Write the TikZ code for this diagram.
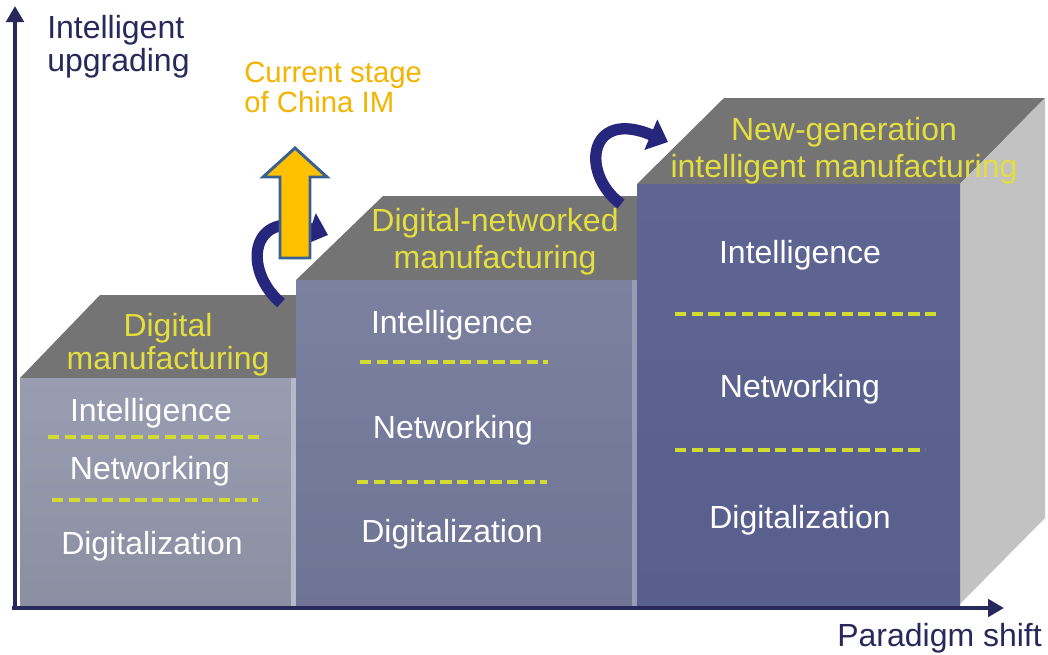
\documentclass[tikz,border=0pt]{standalone}
\usepackage{fontspec}
\setmainfont{Liberation Sans}
\usetikzlibrary{arrows.meta}
\definecolor{navy}{HTML}{28285A}
\definecolor{labelyellow}{HTML}{E4DE3E}
\definecolor{dashyellow}{HTML}{D2DC30}
\definecolor{topgray}{HTML}{747474}
\definecolor{sidegray}{HTML}{C2C2C2}
\definecolor{arrowblue}{HTML}{26267C}
\definecolor{orangefill}{HTML}{FFC000}
\definecolor{orangeedge}{HTML}{3A6090}
\definecolor{stagecol}{HTML}{F2B400}
\definecolor{bAtop}{RGB}{154,157,177}
\definecolor{bAbot}{RGB}{140,143,162}
\definecolor{bAedge}{RGB}{182,185,199}
\definecolor{bBtop}{RGB}{124,129,160}
\definecolor{bBbot}{RGB}{111,116,150}
\definecolor{bBedge}{RGB}{150,155,182}
\definecolor{bCtop}{RGB}{94,101,147}
\definecolor{bCbot}{RGB}{88,95,140}
\begin{document}
\begin{tikzpicture}[x=0.75pt,y=-0.75pt,
  facetext/.style={text=white, font=\fontsize{24}{28}\selectfont, inner sep=0pt, anchor=base},
  toplabel/.style={text=labelyellow, align=center, inner sep=0pt, anchor=north},
  sepline/.style={draw=dashyellow, line width=2.4pt, dash pattern=on 8.5pt off 4pt},
  axisline/.style={draw=navy, line width=3pt, -{Triangle[length=12pt,width=13pt]}},
  curvarrow/.style={draw=arrowblue, line width=8.5pt, -{Triangle[length=14pt,width=24pt]}},
  axislabel/.style={text=navy, font=\fontsize{24}{24.75}\selectfont, inner sep=0pt, align=left}
]
\useasboundingbox (0,0) rectangle (1048,654);

% ---- block 1 ----
\fill[topgray] (20,378) -- (100,295) -- (320,295) -- (320,378) -- cycle;
\shade[top color=bAtop, bottom color=bAbot] (20,378) rectangle (296,606);
\fill[bAedge] (291,378) rectangle (296,606);

% ---- block 2 ----
\fill[topgray] (296,280) -- (383,196) -- (660,196) -- (660,280) -- cycle;
\shade[top color=bBtop, bottom color=bBbot] (296,280) rectangle (637,606);
\fill[bBedge] (632,280) rectangle (637,606);

% ---- block 3 ----
\fill[topgray] (637,184) -- (724,98) -- (1045,98) -- (960,184) -- cycle;
\fill[sidegray] (960,184) -- (1045,98) -- (1045,518) -- (960,604) -- cycle;
\shade[top color=bCtop, bottom color=bCbot] (637,184) rectangle (960,606);

% ---- axes ----
\coordinate (origin) at (15,608);
\coordinate (ytip) at (15,6);
\coordinate (xorigin) at (12,608);
\coordinate (xtip) at (1004,608);
\draw[axisline] (origin) -- (ytip);
\draw[axisline] (xorigin) -- (xtip);

% ---- curved arrows ----
\coordinate (c1s) at (281,303);
\coordinate (c1e) at (328,235);
\draw[curvarrow] (c1s) .. controls (242,270) and (250,208) .. (c1e);
\coordinate (c2s) at (621,204);
\coordinate (c2e) at (668,142);
\draw[curvarrow] (c2s) .. controls (580,174) and (588,108) .. (c2e);

% ---- orange arrow ----
\filldraw[fill=orangefill, draw=orangeedge, line width=2.2pt, line join=miter]
  (280,258) -- (310,258) -- (310,177) -- (327,177) -- (295,148) -- (263,177) -- (280,177) -- cycle;

% ---- separators ----
\draw[sepline] (48,437) -- (262,437);
\draw[sepline] (52,500) -- (258,500);
\draw[sepline] (360,362) -- (548,362);
\draw[sepline] (357,482) -- (547,482);
\draw[sepline] (675,314) -- (937,314);
\draw[sepline] (675,450) -- (925,450);

% ---- face texts ----
\node[facetext] (b1i) at (151,421) {Intelligence};
\node[facetext] (b1n) at (150,479) {Networking};
\node[facetext] (b1d) at (152,554) {Digitalization};
\node[facetext] (b2i) at (452,333) {Intelligence};
\node[facetext] (b2n) at (453,438) {Networking};
\node[facetext] (b2d) at (452,542) {Digitalization};
\node[facetext] (b3i) at (800,263) {Intelligence};
\node[facetext] (b3n) at (800,397) {Networking};
\node[facetext] (b3d) at (800,528) {Digitalization};

% ---- top labels ----
\node[toplabel, font=\fontsize{24}{25}\selectfont] (t1) at (168,313) {Digital\\manufacturing};
\node[toplabel, font=\fontsize{24}{27.75}\selectfont] (t2) at (495,208) {Digital-networked\\manufacturing};
\node[toplabel, font=\fontsize{24}{27.75}\selectfont] (t3) at (844,117) {New-generation\\intelligent manufacturing};

% ---- axis labels ----
\node[axislabel, anchor=north west] (ylab) at (47,15) {Intelligent\\upgrading};
\node[axislabel, anchor=base west] (xlab) at (837,646) {Paradigm shift};
\node[text=stagecol, font=\fontsize{22}{22.5}\selectfont, inner sep=0pt, align=left, anchor=north west] (stage) at (244,62) {Current stage\\of China IM};
\end{tikzpicture}
\end{document}
